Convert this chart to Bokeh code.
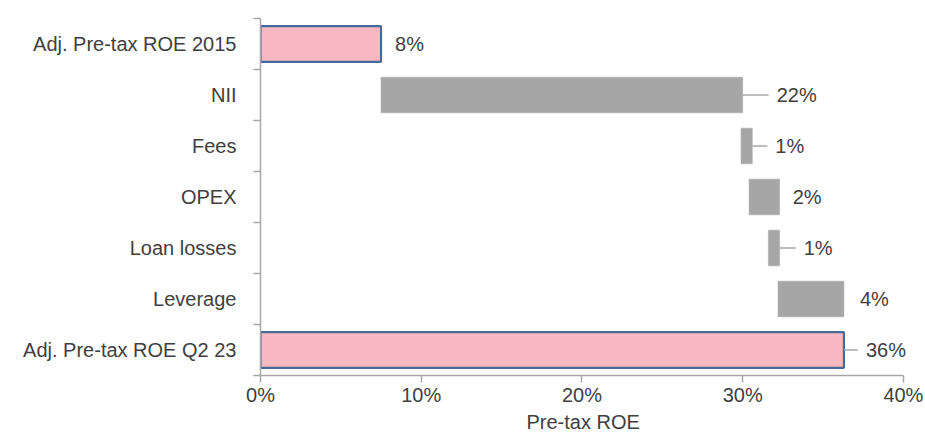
from bokeh.plotting import figure
from bokeh.models import ColumnDataSource, FixedTicker, Range1d, LabelSet, Title
from bokeh.embed import file_html
from bokeh.resources import INLINE
from bokeh.core.properties import value

# ---- data ----
categories = ["Adj. Pre-tax ROE 2015", "NII", "Fees", "OPEX", "Loan losses",
              "Leverage", "Adj. Pre-tax ROE Q2 23"]
bar_start = [0.0, 7.5, 29.9, 30.4, 31.6, 32.2, 0.0]
bar_end = [7.5, 30.0, 30.6, 32.3, 32.3, 36.3, 36.3]
value_labels = ["8%", "22%", "1%", "2%", "1%", "4%", "36%"]
is_total = [True, False, False, False, False, False, True]
x_ticks = [0, 10, 20, 30, 40]
x_tick_labels = ["0%", "10%", "20%", "30%", "40%"]
x_title = "Pre-tax ROE"

# ---- styles ----
label_gap_px = [14, 34, 23, 13, 24, 16, 22]
has_leader = [False, True, True, False, True, False, True]
PINK = "#f9b9c2"
BLUE = "#4a6898"
GREY = "#a6a6a6"
TEXT = "#404040"
FONT = "Liberation Sans"
FS = "20px"
TITLE_W = 111  # approx rendered width of the axis title in px

AXIS_MAX = 40
X_MAX = 41.5          # extra room so the last value label is not clipped
AXIS_W = 643
px_per_unit = AXIS_W / AXIS_MAX
FRAME_W = int(round(px_per_unit * X_MAX))

n = len(categories)
ys = [n - i - 0.5 for i in range(n)]

p = figure(width=925, height=438, frame_width=FRAME_W, frame_height=357,
           x_range=Range1d(0, X_MAX), y_range=Range1d(0, n),
           output_backend="svg", toolbar_location=None,
           min_border_left=260, min_border_right=0,
           min_border_top=18, min_border_bottom=0)
p.outline_line_color = None
p.xgrid.visible = False
p.ygrid.visible = False
p.background_fill_color = "white"
p.border_fill_color = "white"

src = ColumnDataSource(dict(
    y=ys, left=bar_start, right=bar_end,
    fill=[PINK if t else GREY for t in is_total],
    line=[BLUE if t else GREY for t in is_total],
    lw=[2.2 if t else 0.5 for t in is_total],
))
p.hbar(y="y", left="left", right="right", height=0.7, source=src,
       fill_color="fill", line_color="line", line_width="lw")

# leader lines
lx0, lx1, ly = [], [], []
for e, g, h, y in zip(bar_end, label_gap_px, has_leader, ys):
    if h:
        lx0.append(e)
        lx1.append(e + (g - 8) / px_per_unit)
        ly.append(y)
p.segment(x0=lx0, x1=lx1, y0=ly, y1=ly, line_color=GREY, line_width=1.5)

lab = ColumnDataSource(dict(x=bar_end, y=ys, t=value_labels, off=label_gap_px))
labels = LabelSet(x="x", y="y", text="t", x_offset="off", source=lab,
                  text_baseline="middle", text_align="left",
                  text_font=value(FONT), text_font_size=value(FS),
                  text_color=value(TEXT))
p.add_layout(labels)

# x axis
xa = p.xaxis[0]
xa.bounds = (0, AXIS_MAX)
xa.ticker = FixedTicker(ticks=x_ticks)
xa.major_label_overrides = {t: l for t, l in zip(x_ticks, x_tick_labels)}
xa.major_tick_out = 7
xa.major_tick_in = 0
xa.minor_tick_line_color = None
xa.axis_line_color = GREY
xa.major_tick_line_color = GREY
xa.axis_line_width = 1.5
xa.major_tick_line_width = 1.5
xa.major_label_text_font = FONT
xa.major_label_text_font_size = FS
xa.major_label_text_color = TEXT
xa.major_label_standoff = 1

# axis title centred under the 0-40% axis
t = Title(text=x_title, align="left", offset=(AXIS_W - TITLE_W) / 2,
          text_font=FONT, text_font_size=FS, text_font_style="normal",
          text_color=TEXT, standoff=0)
p.add_layout(t, "below")

# y axis
ya = p.yaxis[0]
ya.ticker = FixedTicker(ticks=ys, minor_ticks=list(range(n + 1)))
ya.major_label_overrides = {y: c for y, c in zip(ys, categories)}
ya.major_tick_out = 0
ya.major_tick_in = 0
ya.major_tick_line_color = None
ya.minor_tick_out = 7
ya.minor_tick_in = 0
ya.minor_tick_line_color = GREY
ya.minor_tick_line_width = 1.5
ya.axis_line_color = GREY
ya.axis_line_width = 1.5
ya.major_label_text_font = FONT
ya.major_label_text_font_size = FS
ya.major_label_text_color = TEXT
ya.major_label_standoff = 17

open("out.html", "w").write(file_html(p, INLINE))
